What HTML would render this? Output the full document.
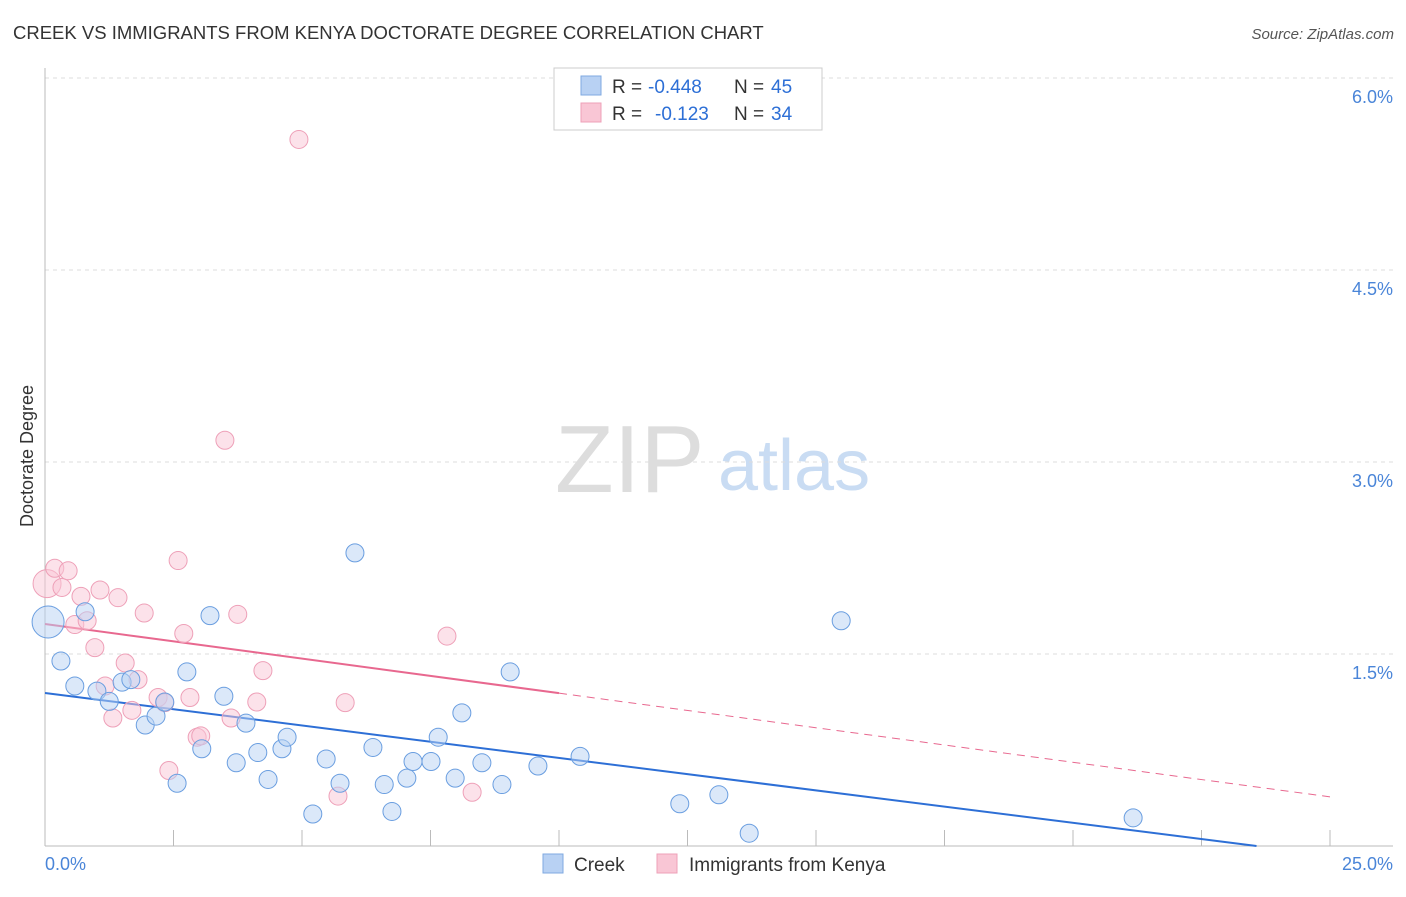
<!DOCTYPE html>
<html><head><meta charset="utf-8"><style>
body{margin:0;background:#fff;font-family:"Liberation Sans",sans-serif;}
svg text{font-family:"Liberation Sans",sans-serif;}
</style></head><body>
<svg id="chart" width="1406" height="892" xmlns="http://www.w3.org/2000/svg">
<text x="13" y="39" font-size="18.5" fill="#333">CREEK VS IMMIGRANTS FROM KENYA DOCTORATE DEGREE CORRELATION CHART</text>
<text x="1394" y="39" font-size="15" fill="#555" font-style="italic" text-anchor="end">Source: ZipAtlas.com</text>
<text x="33" y="456" font-size="18" fill="#333" text-anchor="middle" transform="rotate(-90 33 456)">Doctorate Degree</text>
<g>
<text x="555" y="492" font-size="96" fill="#ddd" font-family="Liberation Serif,serif">ZIP</text>
<text x="718" y="490" font-size="72" fill="#c9dcf3">atlas</text>
</g>
<g id="grid"></g><g id="axes"></g><g id="lines"></g><g id="pts"></g>
<g>
<rect x="554" y="68" width="268" height="62" fill="#fff" stroke="#ccc"/>
<rect x="581" y="76" width="20" height="19" fill="#b8d1f3" stroke="#7fa9e0"/>
<rect x="581" y="103" width="20" height="19" fill="#f9c6d5" stroke="#eea0b8"/>
<text x="612" y="93" font-size="19" fill="#333">R =</text>
<text x="648" y="93" font-size="19" fill="#2d6fd6">-0.448</text>
<text x="734" y="93" font-size="19" fill="#333">N =</text>
<text x="771" y="93" font-size="19" fill="#2d6fd6">45</text>
<text x="612" y="120" font-size="19" fill="#333">R =</text>
<text x="655" y="120" font-size="19" fill="#2d6fd6">-0.123</text>
<text x="734" y="120" font-size="19" fill="#333">N =</text>
<text x="771" y="120" font-size="19" fill="#2d6fd6">34</text>
</g>
<g>
<rect x="543" y="854" width="20" height="19" fill="#b8d1f3" stroke="#7fa9e0"/>
<text x="574" y="871" font-size="19" fill="#333">Creek</text>
<rect x="657" y="854" width="20" height="19" fill="#f9c6d5" stroke="#eea0b8"/>
<text x="689" y="871" font-size="19" fill="#333">Immigrants from Kenya</text>
</g>
</svg>
<script>
const creekX=[0.06,0.31,0.58,0.78,1.01,1.25,1.50,1.67,1.95,2.16,2.33,2.57,2.76,3.05,3.21,3.48,3.72,3.91,4.14,4.34,4.61,4.71,5.21,5.47,5.74,6.03,6.38,6.60,6.75,7.04,7.16,7.51,7.65,7.98,8.11,8.50,8.89,9.05,9.59,10.41,12.35,13.11,13.70,15.49,21.17];
const creekY=[1.75,1.445,1.25,1.83,1.21,1.13,1.28,1.30,0.945,1.015,1.125,0.49,1.36,0.76,1.80,1.17,0.65,0.96,0.73,0.52,0.76,0.85,0.25,0.68,0.49,2.29,0.77,0.48,0.27,0.53,0.66,0.66,0.85,0.53,1.04,0.65,0.48,1.36,0.625,0.70,0.33,0.40,0.10,1.76,0.22];
const kenyaX=[0.04,0.19,0.33,0.45,0.58,0.70,0.82,0.97,1.07,1.17,1.32,1.42,1.56,1.69,1.81,1.93,2.20,2.33,2.41,2.59,2.70,2.82,2.96,3.03,3.50,3.62,3.75,4.12,4.24,4.94,5.70,5.84,7.82,8.31];
const kenyaY=[2.05,2.17,2.02,2.15,1.73,1.95,1.76,1.55,2.00,1.25,1.00,1.94,1.43,1.06,1.30,1.82,1.16,1.12,0.59,2.23,1.66,1.16,0.85,0.86,3.17,1.00,1.81,1.125,1.37,5.52,0.39,1.12,1.64,0.42];
const yTicks=[1.5,3.0,4.5,6.0];
const yTickLabels=["1.5%","3.0%","4.5%","6.0%"];
const creekTrend=[1.195,-0.0507];
const kenyaTrend=[1.734,-0.054];
const NS="http://www.w3.org/2000/svg";
const X=v=>45+v/25*1285, Y=v=>846-v*128;
function mk(tag,attrs,parent){const e=document.createElementNS(NS,tag);for(const k in attrs)e.setAttribute(k,attrs[k]);document.getElementById(parent).appendChild(e);return e;}
yTicks.forEach((t,i)=>{
 const l=mk('line',{x1:45,x2:1393,y1:Y(t),y2:Y(t),stroke:'#ddd','stroke-dasharray':'4,4'},'grid');
 
 
 const tx=mk('text',{x:1393,y:Y(t)+25,'font-size':18,fill:'#4a85d8','text-anchor':'end'},'grid');
 tx.textContent=yTickLabels[i];
 
 
});
let a=mk('line',{x1:45,x2:45,y1:68,y2:846,stroke:'#bbb'},'axes');


a=mk('line',{x1:45,x2:1393,y1:846,y2:846,stroke:'#bbb'},'axes');


for(let i=1;i<=10;i++){const t=mk('line',{x1:X(i*2.5),x2:X(i*2.5),y1:830,y2:846,stroke:'#bbb'},'axes');
 
 }
let t0=mk('text',{x:45,y:870,'font-size':18,fill:'#4a85d8'},'axes');t0.textContent='0.0%';


let t1=mk('text',{x:1393,y:870,'font-size':18,fill:'#4a85d8','text-anchor':'end'},'axes');t1.textContent='25.0%';


function draw(xs,ys,fill,stroke,name,big){
 xs.forEach((x,i)=>{const c=mk('circle',{cx:X(x),cy:Y(ys[i]),r:i==0?big:9,fill:fill,'fill-opacity':0.5,stroke:stroke,'stroke-width':1},'pts');
 
 });
}
draw(kenyaX,kenyaY,'#f9c6d5','#eea0b8','kenya-point',14);
draw(creekX,creekY,'#b8d1f3','#6a9ee0','creek-point',16);
const cEnd=-creekTrend[0]/creekTrend[1];
let L=mk('line',{x1:X(0),y1:Y(creekTrend[0]),x2:X(cEnd),y2:Y(0),stroke:'#2d6fd6','stroke-width':2},'lines');


L=mk('line',{x1:X(0),y1:Y(kenyaTrend[0]),x2:X(10),y2:Y(kenyaTrend[0]+kenyaTrend[1]*10),stroke:'#e8688f','stroke-width':2},'lines');


L=mk('line',{x1:X(10),y1:Y(kenyaTrend[0]+kenyaTrend[1]*10),x2:X(25),y2:Y(kenyaTrend[0]+kenyaTrend[1]*25),stroke:'#e8688f','stroke-width':1,'stroke-dasharray':'8,6'},'lines');


</script>
</body></html>
